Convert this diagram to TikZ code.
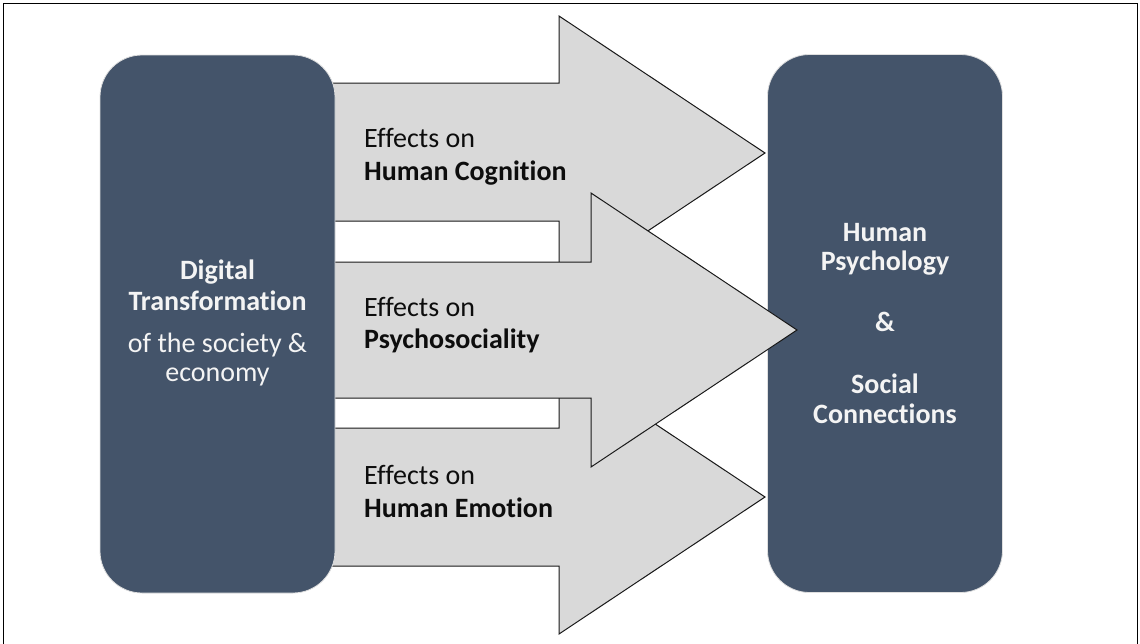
\documentclass[tikz,border=0pt]{standalone}
\usepackage{fontspec}
\setmainfont{Carlito}[Ligatures=NoCommon]
\begin{document}
\definecolor{slate}{HTML}{44546A}
\definecolor{arrowgray}{HTML}{D9D9D9}
\definecolor{inktext}{HTML}{0D0D0D}
\definecolor{boxtext}{HTML}{F4F4F4}
\begin{tikzpicture}[x=1pt,y=-1pt,
  panel/.style={rectangle, rounded corners=42pt, fill=slate, draw=gray!25, line width=0.8pt,
                inner sep=0pt, minimum width=235pt, minimum height=538pt},
  bigarrow/.style={fill=arrowgray, draw=black!90, line width=1pt, line join=miter},
  arrowlabel/.style={anchor=base west, inner sep=0pt, text=inktext,
                     font=\fontsize{28}{30}\selectfont},
  panellabel/.style={anchor=base, inner sep=0pt, text=boxtext,
                     font=\fontsize{28}{30}\selectfont},
  frame/.style={draw=black, line width=1.8pt}]
\useasboundingbox (0,0) rectangle (1140,643);

% outer frame
\draw[frame] (3.5,3.5) rectangle (1137.5,660);

% target panel (right), lies under the arrow heads
\node[panel] (target) at (885,323.5) {};

% the three broad arrows: cognition, emotion, then psychosociality on top
\draw[bigarrow] (300,83) -- (559,83) -- (559,16) -- (765,153) -- (559,290) -- (559,221) -- (300,221) -- cycle;
\draw[bigarrow] (300,428) -- (559,428) -- (559,360) -- (765,497) -- (559,634) -- (559,566) -- (300,566) -- cycle;
\draw[bigarrow] (300,262) -- (591,262) -- (591,193) -- (797,330) -- (591,467) -- (591,398) -- (300,398) -- cycle;

% source panel (left), covers the arrow tails
\node[panel] (source) at (217.5,324) {};

% arrow labels
\node[arrowlabel] (cogA) at (364,147) {Effects on};
\node[arrowlabel] (cogB) at (364,180) {\bfseries Human Cognition};
\node[arrowlabel] (psyA) at (364,316) {Effects on};
\node[arrowlabel] (psyB) at (364,348) {\bfseries Psychosociality};
\node[arrowlabel] (emoA) at (364,484) {Effects on};
\node[arrowlabel] (emoB) at (364,517) {\bfseries Human Emotion};

% source panel text
\node[panellabel] (srcA) at (217.5,279) {\bfseries Digital};
\node[panellabel] (srcB) at (217.5,310) {\bfseries Transformation};
\node[panellabel] (srcC) at (217.5,352) {of the society \&};
\node[panellabel] (srcD) at (217.5,381) {economy};

% target panel text
\node[panellabel] (tgtA) at (885,241) {\bfseries Human};
\node[panellabel] (tgtB) at (885,270) {\bfseries Psychology};
\node[panellabel] (tgtC) at (885,331) {\bfseries \&};
\node[panellabel] (tgtD) at (885,393) {\bfseries Social};
\node[panellabel] (tgtE) at (885,423) {\bfseries Connections};
\end{tikzpicture}
\end{document}
